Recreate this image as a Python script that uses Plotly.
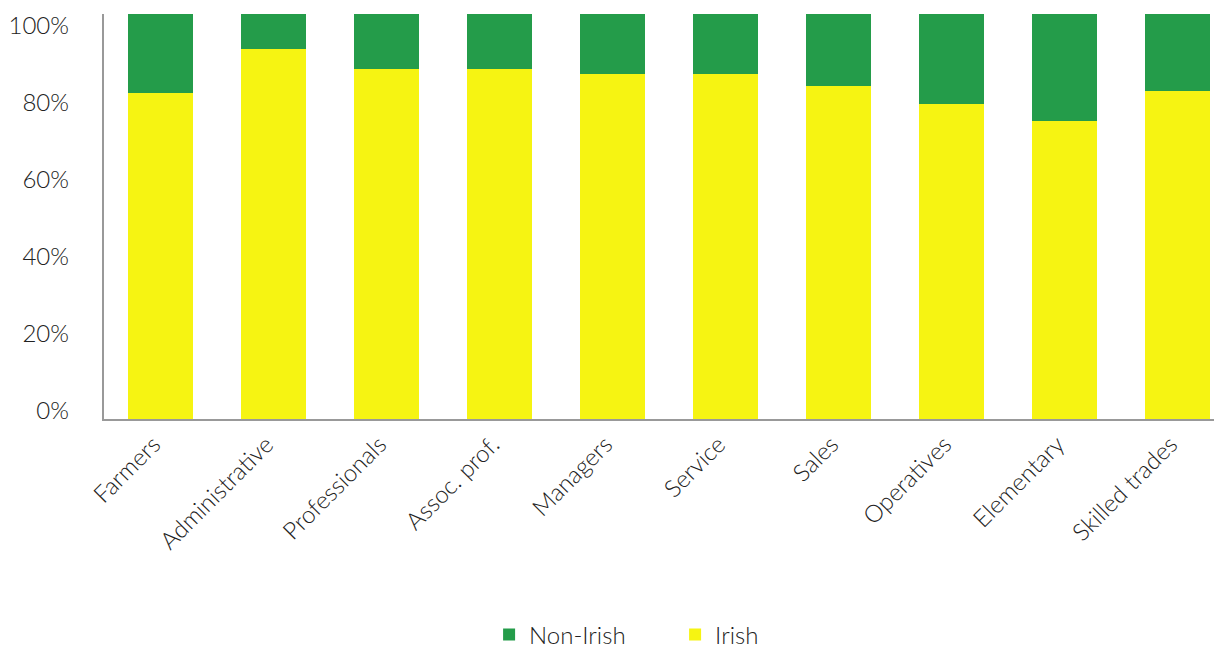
import plotly.graph_objects as go

categories = ["Farmers", "Administrative", "Professionals", "Assoc. prof.", "Managers",
              "Service", "Sales", "Operatives", "Elementary", "Skilled trades"]
irish = [80.5, 91.4, 86.4, 86.4, 85.2, 85.2, 82.2, 77.8, 73.6, 81.0]
non_irish = [round(100 - v, 1) for v in irish]
tick_values = [0, 20, 40, 60, 80, 100]
tick_labels = ["0%", "20%", "40%", "60%", "80%", "100%"]

GREEN = "#249C4A"
YELLOW = "#F6F412"
FONT = dict(family="Lato", size=24, color="#222222", weight=300)

fig = go.Figure()
fig.add_trace(go.Bar(x=categories, y=irish, name="Irish", marker_color=YELLOW,
                     marker_line_width=0))
fig.add_trace(go.Bar(x=categories, y=non_irish, name="Non-Irish", marker_color=GREEN,
                     marker_line_width=0))
# invisible helper so the percentage label axis is drawn
fig.add_trace(go.Scatter(x=categories[:1], y=tick_values[:1], yaxis="y2", mode="markers",
                         marker=dict(opacity=0), showlegend=False, hoverinfo="skip"))

fig.update_layout(
    barmode="stack",
    bargap=0.425,
    width=1222, height=648,
    margin=dict(l=96, r=0, t=6, b=237, autoexpand=False),
    plot_bgcolor="white", paper_bgcolor="white",
    font=FONT,
    showlegend=True,
    legend=dict(orientation="h", traceorder="reversed",
                x=0.342, xanchor="left", y=-0.533, yanchor="middle",
                font=FONT, entrywidth=141, entrywidthmode="pixels"),
    xaxis=dict(range=[-0.5, 9.465], tickangle=-45, showline=True, linecolor="#999999",
               linewidth=2, ticks="", showgrid=False, tickfont=FONT, automargin=False,
               ticklabelshift=-7),
    yaxis=dict(range=[0, 100], showticklabels=False,
               showline=True, linecolor="#999999", linewidth=2, showgrid=False,
               zeroline=False, ticks="", automargin=False),
    yaxis2=dict(range=[0, 105], overlaying="y", side="left", tickvals=tick_values,
                ticktext=tick_labels, showline=False, showgrid=False, zeroline=False,
                ticks="", ticklabelstandoff=34, tickfont=FONT, automargin=False,
                ticklabelshift=-8, ticklabeloverflow="allow"),
)

fig.write_html("out.html")
